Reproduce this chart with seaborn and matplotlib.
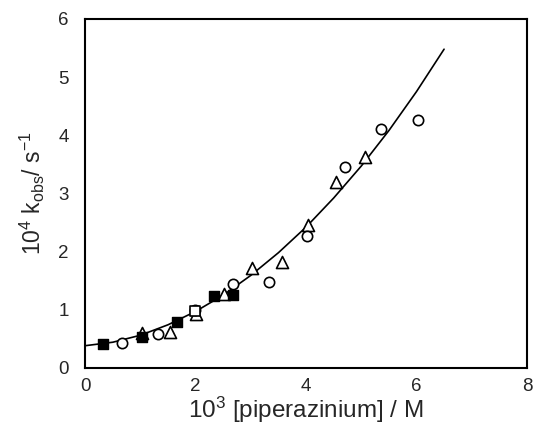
import matplotlib
matplotlib.use("Agg")
import matplotlib.pyplot as plt
import seaborn as sns

# data (x = 10^3 [piperazinium] / M, y = 10^4 kobs / s^-1)
filled_sq_x = [0.32, 1.03, 1.67, 2.33, 2.68]
filled_sq_y = [0.41, 0.53, 0.78, 1.24, 1.25]

open_sq_x = [1.99]
open_sq_y = [0.97]

circle_x = [0.66, 1.31, 1.99, 2.68, 3.32, 4.02, 4.71, 5.35, 6.03]
circle_y = [0.43, 0.58, 1.00, 1.44, 1.48, 2.26, 3.46, 4.10, 4.26]

tri_x = [1.03, 1.53, 2.00, 2.52, 3.02, 3.56, 4.04, 4.55, 5.07]
tri_y = [0.60, 0.61, 0.92, 1.27, 1.72, 1.82, 2.46, 3.20, 3.62]

# fitted curve as drawn in the reference
curve_x = [0, 0.5, 1, 1.5, 2, 2.5, 3, 3.5, 4, 4.5, 5, 5.5, 6, 6.5]
curve_y = [0.38, 0.44, 0.56, 0.74, 0.97, 1.25, 1.59, 1.98, 2.42, 2.92, 3.47, 4.08, 4.75, 5.48]

sns.set_style("white")
plt.rcParams['font.family'] = ['Liberation Sans', 'DejaVu Sans']
plt.rcParams['mathtext.default'] = 'regular'

fig = plt.figure(figsize=(5.36, 4.41), dpi=100)
ax = fig.add_axes([0.159, 0.166, 0.824, 0.791])

sns.lineplot(x=curve_x, y=curve_y, ax=ax, color='black', linewidth=1.2, zorder=1)

sns.scatterplot(x=tri_x, y=tri_y, ax=ax, marker='^', s=75, facecolor='white',
                edgecolor='black', linewidth=1.2, zorder=3)
sns.scatterplot(x=circle_x, y=circle_y, ax=ax, marker='o', s=55, facecolor='white',
                edgecolor='black', linewidth=1.2, zorder=3)
sns.scatterplot(x=open_sq_x, y=open_sq_y, ax=ax, marker='s', s=55, facecolor='white',
                edgecolor='black', linewidth=1.2, zorder=3)
sns.scatterplot(x=filled_sq_x, y=filled_sq_y, ax=ax, marker='s', s=55, facecolor='black',
                edgecolor='black', linewidth=1.0, zorder=4)

ax.set_xlim(0, 8)
ax.set_ylim(0, 6)
ax.set_xticks([0, 2, 4, 6, 8])
ax.set_yticks([0, 1, 2, 3, 4, 5, 6])
ax.tick_params(length=0, labelsize=13.5)
ax.tick_params(axis='x', pad=7)
ax.tick_params(axis='y', pad=12)

for sp in ax.spines.values():
    sp.set_color('black')
    sp.set_linewidth(1.5)

ax.set_xlabel('10$^3$ [piperazinium] / M', fontsize=17.5, labelpad=0)
ax.set_ylabel('10$^4$ k$_{obs}$/ s$^{-1}$', fontsize=16.5, labelpad=8)

fig.savefig('out.png', dpi=100)
